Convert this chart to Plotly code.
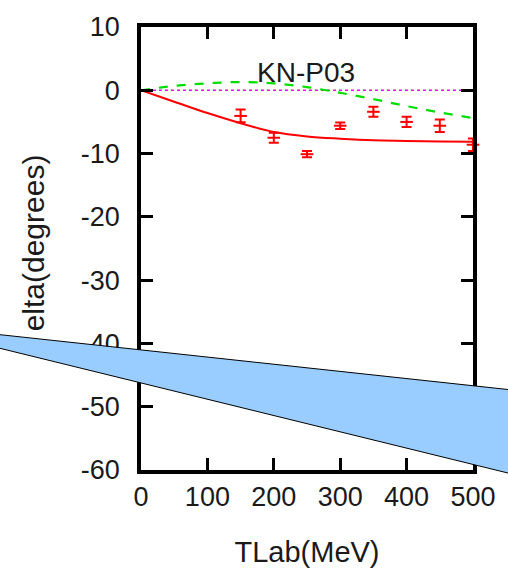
import plotly.graph_objects as go

# ---- data ----
t_curve = [0, 50, 100, 150, 200, 250, 300, 350, 400, 450, 500]
red_curve = [0, -1.8, -3.6, -5.2, -6.6, -7.3, -7.65, -7.9, -8.0, -8.1, -8.15]
green_curve = [0, 0.7, 1.1, 1.3, 1.1, 0.5, -0.4, -1.4, -2.5, -3.5, -4.4]
t_zero = [0, 500]
zero_line = [0, 0]

t_data = [150, 200, 250, 300, 350, 400, 450, 500]
data_vals = [-4.05, -7.5, -10.1, -5.6, -3.4, -5.0, -5.6, -8.6]
data_err = [1.0, 0.8, 0.5, 0.5, 0.8, 0.8, 1.0, 1.0]

x_ticks = [0, 100, 200, 300, 400, 500]
y_ticks = [10, 0, -10, -20, -30, -40, -50, -60]

# ---- layout geometry (pixels) ----
W, H = 508, 576
L, R, T, B = 141, 31, 24, 103
pw, ph = W - L - R, H - T - B

def px(x):
    return (x - L) / pw

def py(y):
    return (H - B - y) / ph

FONT = "Liberation Sans, Arial, Helvetica, sans-serif"
TXT = "#1a1a1a"

fig = go.Figure()
fig.add_trace(go.Scatter(x=t_zero, y=zero_line, mode="lines",
                         line=dict(color="#FF00FF", width=1.5, dash="dot")))
fig.add_trace(go.Scatter(x=t_curve, y=green_curve, mode="lines",
                         line=dict(color="#00DD00", width=2.2, dash="dash", shape="spline")))
fig.add_trace(go.Scatter(x=t_curve, y=red_curve, mode="lines",
                         line=dict(color="#FF0000", width=2, shape="spline")))
fig.add_trace(go.Scatter(x=t_data, y=data_vals, mode="markers",
                         marker=dict(symbol="line-ew", size=9, color="#FF0000",
                                     line=dict(color="#FF0000", width=2)),
                         error_y=dict(type="data", array=data_err, color="#FF0000",
                                      thickness=2, width=5),
                         cliponaxis=False))

axis_common = dict(
    showgrid=False, zeroline=False, showline=True, linecolor="black", linewidth=3.5,
    mirror="ticks", ticks="inside", ticklen=12, tickwidth=2.5, tickcolor="black",
    tickfont=dict(family=FONT, size=27, color=TXT),
)

fig.update_layout(
    width=W, height=H,
    margin=dict(l=L, r=R, t=T, b=B, pad=0),
    paper_bgcolor="white", plot_bgcolor="white",
    showlegend=False,
    font=dict(family=FONT, size=27, color=TXT),
    xaxis=dict(range=[0, 500], tickvals=x_ticks, ticktext=[str(v) for v in x_ticks],
               ticklabelstandoff=0,
               title=dict(text="TLab(MeV)", font=dict(family=FONT, size=29, color=TXT),
                          standoff=32),
               **axis_common),
    yaxis=dict(range=[-60, 10], tickvals=y_ticks, ticktext=[str(v) for v in y_ticks],
               ticklabelstandoff=12, **axis_common),
)

fig.add_annotation(x=248, y=2.85, xref="x", yref="y", text="KN-P03", showarrow=False,
                   font=dict(family=FONT, size=28, color=TXT))
fig.add_annotation(x=px(32), y=py(243), xref="paper", yref="paper", text="elta(degrees)",
                   textangle=-90, showarrow=False, xanchor="center", yanchor="middle",
                   font=dict(family=FONT, size=30, color=TXT))

# blue wedge overlay
verts = [(-102, 325), (600, 400.9), (600, 497.6)]
path = "M " + " L ".join(f"{px(a):.4f},{py(b):.4f}" for a, b in verts) + " Z"
fig.add_shape(type="path", path=path, xref="paper", yref="paper", layer="above",
              fillcolor="#99CCFF", line=dict(color="black", width=1))

fig.write_html("out.html")
